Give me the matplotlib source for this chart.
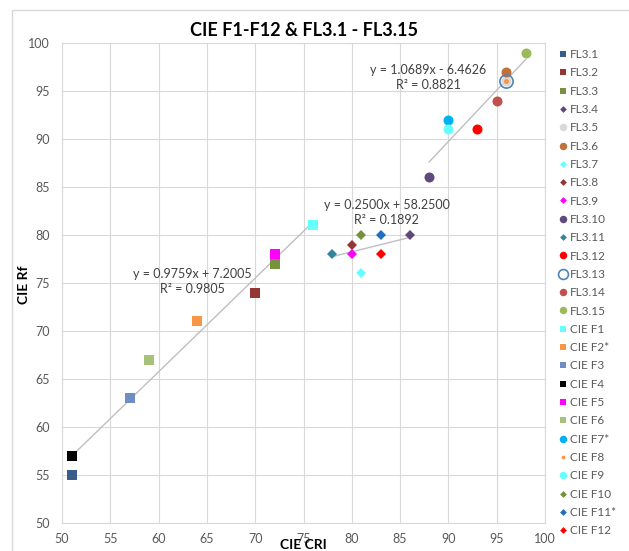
import numpy as np
import matplotlib
matplotlib.use("Agg")
import matplotlib.pyplot as plt
from matplotlib.patches import Rectangle

plt.rcParams["font.family"] = ["Lato", "DejaVu Sans"]

# series: name, CRI (x), Rf (y)
names = ["FL3.1", "FL3.2", "FL3.3", "FL3.4", "FL3.5", "FL3.6", "FL3.7", "FL3.8",
         "FL3.9", "FL3.10", "FL3.11", "FL3.12", "FL3.13", "FL3.14", "FL3.15",
         "CIE F1", "CIE F2*", "CIE F3", "CIE F4", "CIE F5", "CIE F6", "CIE F7*",
         "CIE F8", "CIE F9", "CIE F10", "CIE F11*", "CIE F12"]
cri = [51, 70, 72, 86, 96, 96, 81, 80, 80, 88, 78, 93, 96, 95, 98,
       76, 64, 57, 51, 72, 59, 90, 96, 90, 81, 83, 83]
rf = [55, 74, 77, 80, 96, 97, 76, 79, 78, 86, 78, 91, 96, 94, 99,
      81, 71, 63, 57, 78, 67, 92, 96, 91, 80, 80, 78]
colors = ["#385D8A", "#943634", "#76923C", "#5F497A", "#D9D9D9", "#C0713A",
          "#66FFFF", "#943634", "#FF00FF", "#604A7B", "#31859C", "#FF0000",
          "#4F81BD", "#C0504D", "#9BBB59",
          "#66FFFF", "#F79646", "#6F8FC4", "#000000", "#FF00FF", "#A6C27A",
          "#00B0F0", "#F79646", "#66FFFF", "#76923C", "#1F6FC0", "#FF0000"]
markers = ["s", "s", "s", "D", "o", "o", "D", "D", "D", "o", "D", "o", "o", "o", "o",
           "s", "s", "s", "s", "s", "s", "o", "o", "o", "D", "D", "D"]

# trendline per marker group, with the equations as shown
groups = {"s": "y = 0.9759x + 7.2005\nR² = 0.9805",
          "D": "y = 0.2500x + 58.2500\nR² = 0.1892",
          "o": "y = 1.0689x - 6.4626\nR² = 0.8821"}
eq_pos = {"s": (63.5, 75.2), "D": (83.6, 82.3), "o": (87.9, 96.4)}

fig = plt.figure(figsize=(6.29, 5.51), dpi=100)
ax = fig.add_axes([62 / 629, 28 / 551, 483 / 629, 480 / 551])

# outer chart frame
fig.patches.append(Rectangle((12 / 629, -0.1), 1.2, 1.1 - 10 / 551,
                             transform=fig.transFigure, fill=False,
                             edgecolor="#D9D9D9", linewidth=1.0))

x = np.array(cri, dtype=float)
y = np.array(rf, dtype=float)
mk = np.array(markers)

for m, txt in groups.items():
    sel = mk == m
    xs, ys = x[sel], y[sel]
    k, b = np.polyfit(xs, ys, 1)
    xx = np.array([xs.min(), xs.max()])
    ax.plot(xx, k * xx + b, color="#BFBFBF", linewidth=1.0, zorder=2)
    ax.text(eq_pos[m][0], eq_pos[m][1], txt, ha="center", va="center",
            fontsize=9, color="#404040", linespacing=1.3, zorder=5)

for i, n in enumerate(names):
    m = markers[i]
    if m == "s":
        ms = 6.5
    elif m == "D":
        ms = 4.6
    else:
        ms = 7.2
    if n == "FL3.13":
        ax.plot(cri[i], rf[i], linestyle="none", marker="o", markersize=9.5,
                markerfacecolor="none", markeredgecolor=colors[i],
                markeredgewidth=1.2, label=n, zorder=4)
    elif n == "CIE F8":
        ax.plot(cri[i], rf[i], linestyle="none", marker="o", markersize=3.6,
                color=colors[i], markeredgewidth=0, label=n, zorder=4)
    else:
        ax.plot(cri[i], rf[i], linestyle="none", marker=m, markersize=ms,
                color=colors[i], markeredgewidth=0, label=n, zorder=3)

ax.set_xlim(50, 100)
ax.set_ylim(50, 100)
ax.set_xticks(np.arange(50, 101, 5))
ax.set_yticks(np.arange(50, 101, 5))
ax.grid(True, color="#D9D9D9", linewidth=0.8)
ax.set_axisbelow(True)
for s in ax.spines.values():
    s.set_color("#D9D9D9")
    s.set_linewidth(0.8)
ax.tick_params(length=0, labelsize=9, labelcolor="#595959")
ax.tick_params(axis="y", pad=9)
ax.tick_params(axis="x", pad=7)

ax.set_title("CIE F1-F12 & FL3.1 - FL3.15", fontsize=13, fontweight="bold",
             color="#000000", pad=5)
ax.set_xlabel("CIE CRI", fontsize=10, fontweight="bold")
ax.set_ylabel("CIE Rf", fontsize=10, fontweight="bold")
ax.xaxis.set_label_coords((303 - 62) / 483, (523 - 539) / 480)
ax.yaxis.set_label_coords((30 - 62) / 483, (523 - 285) / 480)

leg = ax.legend(loc="upper left", bbox_to_anchor=(1.006, 1.012), frameon=False,
                fontsize=8.5, labelspacing=0.62, handlelength=0.6,
                handletextpad=0.25, markerscale=0.75, borderaxespad=0.6)
for t in leg.get_texts():
    t.set_color("#595959")

fig.savefig("out.png", dpi=100)
